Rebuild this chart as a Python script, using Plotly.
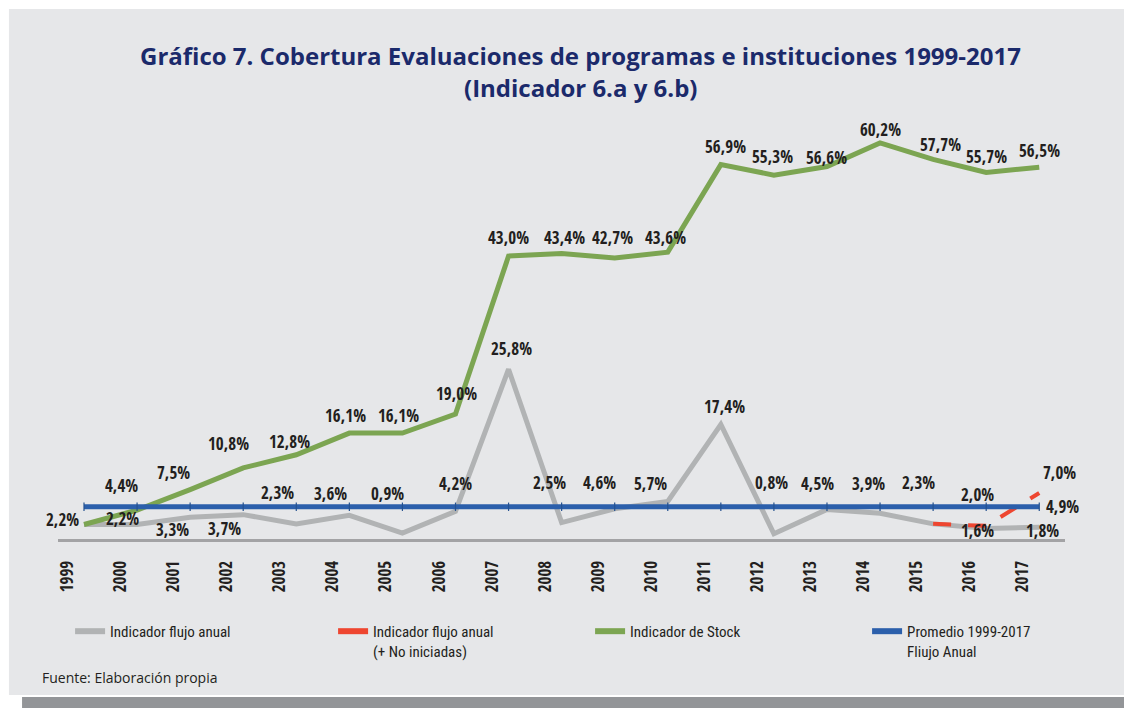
import plotly.graph_objects as go

# datos
years = [str(y) for y in range(1999, 2018)]
flujo = [2.2, 2.2, 3.3, 3.7, 2.3, 3.6, 0.9, 4.2, 25.8, 2.5, 4.6, 5.7, 17.4, 0.8, 4.5, 3.9, 2.3, 1.6, 1.8]
flujo_no_iniciadas = [None] * 16 + [2.3, 2.0, 7.0]
stock = [2.2, 4.4, 7.5, 10.8, 12.8, 16.1, 16.1, 19.0, 43.0, 43.4, 42.7, 43.6, 56.9, 55.3, 56.6, 60.2, 57.7, 55.7, 56.5]
promedio = [4.9] * 19

# posicion de etiquetas (px, relativo al punto)
flujo_shift = [None, (-15, 6), (-18, -12), (-19, -14), (-19, 31), (-19, 22), (-15, 40), (0, 28), (3, 21),
               (-12, 40), (-15, 26), (-17, 18), (4, 18), (-2, 51), (-9, 26), (-12, 30), (-15, 41), (-9, -2), (3, -3)]
stock_shift = [(-22, 5), (-16, 25), (-17, 17), (-15, 24), (-7, 13), (-4, 18), (-4, 18), (1, 20), (0, 19),
               (3, 16), (-2, 21), (-2, 15), (5, 18), (-1, 19), (0, 9), (0, 13), (7, 15), (0, 16), (0, 17)]
rojo_shift = [None] * 16 + [None, (-9, 31), (20, 20)]
prom_shift = [None] * 18 + [(23, 0)]

GRIS = "#b1b3b4"
ROJO = "#ee4630"
VERDE = "#7ca552"
AZUL = "#2b5fab"
TXT = "#231f20"
COND = "Open Sans Condensed, Roboto Condensed, sans-serif"
COND_REG = "Roboto Condensed, Open Sans Condensed, sans-serif"

x = list(range(len(years)))


def pct(v):
    return f"{v:.1f}".replace(".", ",") + "%"


fig = go.Figure()

fig.add_trace(go.Scatter(x=x, y=flujo, mode="lines", line=dict(color=GRIS, width=5),
                         showlegend=False, cliponaxis=False))
fig.add_trace(go.Scatter(x=x, y=flujo_no_iniciadas, mode="lines",
                         line=dict(color=ROJO, width=4, dash="18px,17px"),
                         showlegend=False, cliponaxis=False))
fig.add_trace(go.Scatter(x=x, y=stock, mode="lines", line=dict(color=VERDE, width=5),
                         showlegend=False, cliponaxis=False))
fig.add_trace(go.Scatter(x=x, y=promedio, mode="lines+markers", line=dict(color=AZUL, width=5),
                         marker=dict(symbol="line-ns-open", size=6, color="#24518f",
                                     line=dict(width=1.2, color="#24518f")),
                         showlegend=False, cliponaxis=False))

# leyenda
legend_items = [("Indicador flujo anual", GRIS, 218),
                ("Indicador flujo anual<br>(+ No iniciadas)", ROJO, 212),
                ("Indicador de Stock", VERDE, 232),
                ("Promedio 1999-2017<br>Fliujo Anual", AZUL, 150)]
for name, col, w in legend_items:
    fig.add_trace(go.Scatter(x=[None], y=[None], mode="lines", name=name,
                             line=dict(color=col, width=6), legendwidth=w))

# etiquetas de datos
annots = []
for serie, shifts in [(flujo, flujo_shift), (stock, stock_shift),
                      (flujo_no_iniciadas, rojo_shift), (promedio, prom_shift)]:
    for i, v in enumerate(serie):
        if v is None or shifts[i] is None:
            continue
        dx, dy = shifts[i]
        annots.append(dict(x=i, y=v, xref="x", yref="y", text=pct(v), showarrow=False,
                           xshift=dx, yshift=dy,
                           font=dict(family=COND, size=17, color=TXT, weight="bold")))

annots += [
    dict(x=0.5184, y=1.1282, xref="paper", yref="paper", showarrow=False,
         xanchor="center", yanchor="middle",
         text="Gráfico 7. Cobertura Evaluaciones de programas e instituciones 1999-2017",
         font=dict(family="Open Sans", size=24, color="#1b2a6b", weight="bold")),
    dict(x=0.5184, y=1.0513, xref="paper", yref="paper", showarrow=False,
         xanchor="center", yanchor="middle",
         text="(Indicador 6.a y 6.b)",
         font=dict(family="Open Sans", size=24, color="#1b2a6b", weight="bold")),
    dict(x=-0.0179, y=-0.3217, xref="paper", yref="paper", showarrow=False,
         xanchor="left", yanchor="middle", text="Fuente: Elaboración propia",
         font=dict(family="Open Sans", size=14, color=TXT)),
]

shapes = [
    dict(type="rect", xref="paper", yref="paper", x0=-0.0487, x1=1.07, y0=-0.3636, y1=1.2354,
         fillcolor="#e6e7e9", line=dict(width=0), layer="below"),
    dict(type="rect", xref="paper", yref="paper", x0=-0.0357, x1=1.07, y0=-0.41, y1=-0.3683,
         fillcolor="#939598", line=dict(width=0), layer="below"),
]

fig.update_layout(
    width=1124, height=708,
    margin=dict(l=58, r=59, t=110, b=169),
    paper_bgcolor="white",
    plot_bgcolor="rgba(0,0,0,0)",
    showlegend=True,
    legend=dict(orientation="h", x=0.012, xanchor="left", y=-0.177, yanchor="top",
                valign="top", bgcolor="rgba(0,0,0,0)", itemwidth=30,
                font=dict(family=COND_REG, size=15, color=TXT)),
    annotations=annots,
    shapes=shapes,
    xaxis=dict(range=[-0.490, 18.485], tickvals=[i - 0.31 for i in x], ticktext=years,
               tickangle=-90, showgrid=False, zeroline=False, showline=True,
               linecolor="#a3a3a5", linewidth=3, ticks="", ticklabelstandoff=12,
               tickfont=dict(family=COND, size=17, color=TXT, weight="bold")),
    yaxis=dict(range=[0, 65.2], visible=False, showgrid=False, zeroline=False),
)

fig.write_html("out.html", config={"displayModeBar": False},
               post_script="document.body.style.margin='0';document.body.style.overflow='hidden';")
